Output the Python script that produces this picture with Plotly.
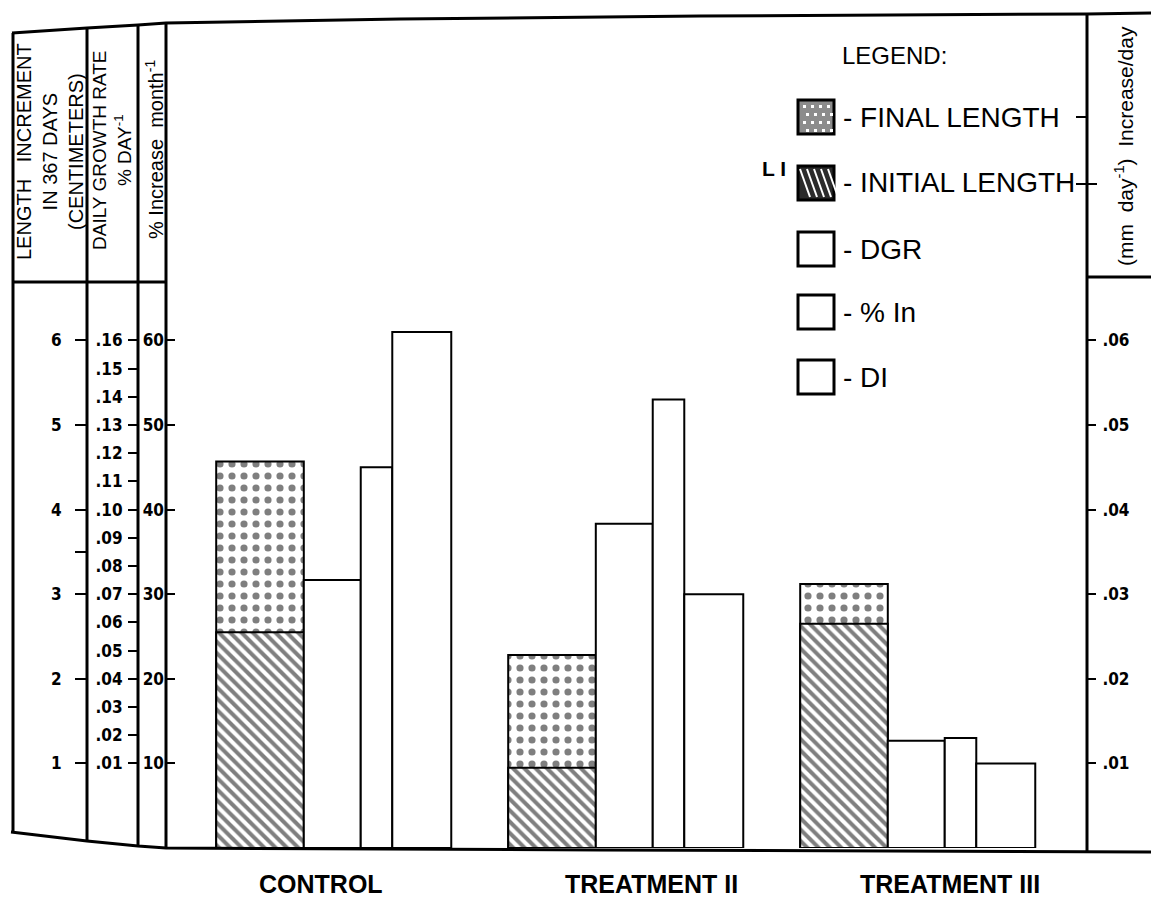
import plotly.graph_objects as go

W, H = 1151, 897

# ---- data -------------------------------------------------------------
categories = ["CONTROL", "TREATMENT II", "TREATMENT III"]
initial_length = [2.55, 0.95, 2.65]      # cm
final_length = [4.57, 2.28, 3.12]        # cm
dgr = [0.075, 0.095, 0.018]              # daily growth rate, % day^-1
pct_increase = [45.0, 53.0, 13.0]        # % increase month^-1
daily_increase = [0.061, 0.030, 0.010]   # mm day^-1

length_ticks = [1, 2, 3, 4, 5, 6]
length_ticktext = ["1", "2", "3", "4", "5", "6"]
length_minor_ticks = [3.5]
dgr_ticks = [0.01, 0.02, 0.03, 0.04, 0.05, 0.06, 0.07, 0.08,
             0.09, 0.10, 0.11, 0.12, 0.13, 0.14, 0.15, 0.16]
dgr_ticktext = [".01", ".02", ".03", ".04", ".05", ".06", ".07", ".08",
                ".09", ".10", ".11", ".12", ".13", ".14", ".15", ".16"]
pct_ticks = [10, 20, 30, 40, 50, 60]
pct_ticktext = ["10", "20", "30", "40", "50", "60"]
di_ticks = [0.01, 0.02, 0.03, 0.04, 0.05, 0.06]
di_ticktext = [".01", ".02", ".03", ".04", ".05", ".06"]

# ---- geometry helpers -------------------------------------------------
def px(x):
    return x / W


def py(y):
    return 1 - y / H


BASE_PX, TOP_PX, UNIT_PX = 848, 14, 84.6
L_TOP = (BASE_PX - TOP_PX) / UNIT_PX
DGR_FLOOR = -0.02                      # DGR scale: .01 at 1 cm, .16 at 6 cm
DGR_TOP = 0.03 * L_TOP + DGR_FLOOR

X_LEFT, X_RIGHT = 166, 1087
GROUP_PX = 292
X0 = -(333 - X_LEFT) / GROUP_PX
X1 = X0 + (X_RIGHT - X_LEFT) / GROUP_PX

TICK_FONT = dict(family="Liberation Sans Narrow, DejaVu Sans Condensed, sans-serif",
                 size=17, color="black", weight="bold")
TEXT_FONT = "Liberation Sans, Arial, sans-serif"
LINE = dict(color="black", width=2)

fig = go.Figure()

# stacked length bar: final length behind, initial length in front
fig.add_trace(go.Bar(
    x=categories, y=final_length, name="FINAL LENGTH", yaxis="y",
    offset=-0.40, width=0.30,
    marker=dict(color="white", line=LINE,
                pattern=dict(shape=".", fgcolor="black", bgcolor="white",
                             size=12, solidity=0.28)),
))
fig.add_trace(go.Bar(
    x=categories, y=initial_length, name="INITIAL LENGTH", yaxis="y",
    offset=-0.40, width=0.30,
    marker=dict(color="white", line=LINE,
                pattern=dict(shape="\\", fgcolor="black", bgcolor="white",
                             size=8, solidity=0.5)),
))
fig.add_trace(go.Bar(
    x=categories, y=[v - DGR_FLOOR for v in dgr], base=DGR_FLOOR,
    name="DGR", yaxis="y2", offset=-0.10, width=0.195,
    marker=dict(color="white", line=LINE),
))
fig.add_trace(go.Bar(
    x=categories, y=pct_increase, name="% In", yaxis="y3",
    offset=0.095, width=0.108,
    marker=dict(color="white", line=LINE),
))
fig.add_trace(go.Bar(
    x=categories, y=daily_increase, name="DI", yaxis="y4",
    offset=0.203, width=0.202,
    marker=dict(color="white", line=LINE),
))

ydom = [py(BASE_PX), py(TOP_PX)]
common_y = dict(domain=ydom, showgrid=False, zeroline=False, showline=False,
                tickfont=TICK_FONT, tickcolor="black", tickwidth=2,
                tickmode="array")

fig.update_layout(
    width=W, height=H,
    margin=dict(l=0, r=0, t=0, b=0),
    paper_bgcolor="white", plot_bgcolor="white",
    barmode="overlay", showlegend=False, hovermode=False,
    xaxis=dict(domain=[px(X_LEFT), px(X_RIGHT)], range=[X0, X1],
               showticklabels=False, ticks="", showgrid=False,
               zeroline=False, showline=False, anchor="y"),
    yaxis=dict(range=[0, L_TOP], anchor="free", position=px(87), side="left",
               ticks="outside", ticklen=12, ticklabelstandoff=10,
               tickvals=length_ticks, ticktext=length_ticktext,
               minor=dict(tickmode="array", tickvals=length_minor_ticks,
                          ticks="outside", ticklen=12, tickwidth=2,
                          tickcolor="black", showgrid=False),
               **common_y),
    yaxis2=dict(range=[DGR_FLOOR, DGR_TOP], anchor="free", position=px(138),
                side="left", overlaying="y", ticks="outside", ticklen=10,
                ticklabelstandoff=2,
                tickvals=dgr_ticks, ticktext=dgr_ticktext, **common_y),
    yaxis3=dict(range=[0, 10 * L_TOP], anchor="free", position=px(166),
                side="left", overlaying="y", ticks="inside", ticklen=8,
                ticklabelstandoff=2,
                tickvals=pct_ticks, ticktext=pct_ticktext, **common_y),
    yaxis4=dict(range=[0, 0.01 * L_TOP], anchor="free", position=px(1087),
                side="right", overlaying="y", ticks="outside", ticklen=8,
                ticklabelstandoff=3,
                tickvals=di_ticks, ticktext=di_ticktext, **common_y),
)

# ---- frame ------------------------------------------------------------
def path(points, close=False):
    d = "M " + " L ".join(f"{px(x):.5f},{py(y):.5f}" for x, y in points)
    return d + (" Z" if close else "")


shapes = []
frame = dict(type="path", xref="paper", yref="paper",
             line=dict(color="black", width=3))
shapes.append(dict(frame, path=path([(12, 33), (87, 28), (138, 25), (166, 23),
                                     (400, 19), (700, 16), (1087, 14), (1151, 13)])))
shapes.append(dict(frame, path=path([(11, 832), (87, 841), (138, 846), (166, 848),
                                     (600, 850), (1151, 852)])))
for x, y_top, y_bot in [(13, 33, 832), (87, 28, 841), (138, 25, 846),
                        (166, 23, 848), (1087, 14, 851)]:
    shapes.append(dict(frame, path=path([(x, y_top), (x, y_bot)])))
shapes.append(dict(frame, path=path([(13, 282), (166, 282)])))
shapes.append(dict(frame, path=path([(1087, 277), (1151, 277)])))
# small marks on the right border beside the legend
shapes.append(dict(frame, line=dict(color="black", width=2),
                   path=path([(1076, 117), (1087, 117)])))
shapes.append(dict(frame, line=dict(color="black", width=2),
                   path=path([(1076, 184), (1097, 184)])))

# ---- legend -----------------------------------------------------------
legend_rows = [
    ("- FINAL LENGTH", 117, "#8c8c8c"),
    ("- INITIAL LENGTH", 183, "#2b2b2b"),
    ("- DGR", 249, "white"),
    ("- % In", 312, "white"),
    ("- DI", 377, "white"),
]
for label, yc, fill in legend_rows:
    shapes.append(dict(type="rect", xref="paper", yref="paper",
                       x0=px(798), x1=px(834), y0=py(yc + 17), y1=py(yc - 17),
                       fillcolor=fill, line=dict(color="black", width=3)))
# white hatching inside the initial-length swatch
for k in range(5):
    x_a = 800 + 7 * k
    shapes.append(dict(type="line", xref="paper", yref="paper",
                       x0=px(x_a), y0=py(169), x1=px(x_a + 10), y1=py(197),
                       line=dict(color="white", width=2)))
# light speckles inside the final-length swatch
for k in range(4):
    for j in range(4):
        cx, cy = 803 + 8 * k + (j % 2) * 3, 105 + 8 * j
        shapes.append(dict(type="rect", xref="paper", yref="paper",
                           x0=px(cx), x1=px(cx + 3), y0=py(cy + 3), y1=py(cy),
                           fillcolor="white", line=dict(width=0)))

annotations = [
    dict(text="LEGEND:", x=px(840), y=py(56), xanchor="left", yanchor="middle",
         font=dict(family=TEXT_FONT, size=24, color="black")),
    dict(text="L I", x=px(760), y=py(168), xanchor="left", yanchor="middle",
         font=dict(family=TEXT_FONT, size=21, color="black", weight="bold")),
]
for label, yc, _ in legend_rows:
    annotations.append(dict(text=label, x=px(841), y=py(yc), xanchor="left",
                            yanchor="middle",
                            font=dict(family=TEXT_FONT, size=28, color="black")))

# column headings
annotations += [
    dict(text="LENGTH   INCREMENT<br>IN 367 DAYS<br>(CENTIMETERS)",
         x=px(50), y=py(152), textangle=-90, xanchor="center", yanchor="middle",
         font=dict(family=TEXT_FONT, size=20, color="black")),
    dict(text="DAILY GROWTH RATE<br>% DAY<sup>-1</sup>",
         x=px(112), y=py(150), textangle=-90, xanchor="center", yanchor="middle",
         font=dict(family=TEXT_FONT, size=19, color="black")),
    dict(text="% Increase  month<sup>-1</sup>",
         x=px(154), y=py(150), textangle=-90, xanchor="center", yanchor="middle",
         font=dict(family=TEXT_FONT, size=20, color="black")),
    dict(text="(mm  day<sup>-1</sup>)  Increase/day",
         x=px(1124), y=py(146), textangle=-90, xanchor="center", yanchor="middle",
         font=dict(family=TEXT_FONT, size=21, color="black")),
]

# group labels under the bars
for cat, shift in zip(categories, [-12, 26, 33]):
    annotations.append(dict(text=cat, x=cat, xref="x", y=py(884), yref="paper",
                            xshift=shift, xanchor="center", yanchor="middle",
                            showarrow=False,
                            font=dict(family=TEXT_FONT, size=25, color="black",
                                      weight="bold")))

for a in annotations:
    a.setdefault("xref", "paper")
    a.setdefault("yref", "paper")
    a.setdefault("showarrow", False)

fig.update_layout(shapes=shapes, annotations=annotations)
fig.write_html("out.html")
